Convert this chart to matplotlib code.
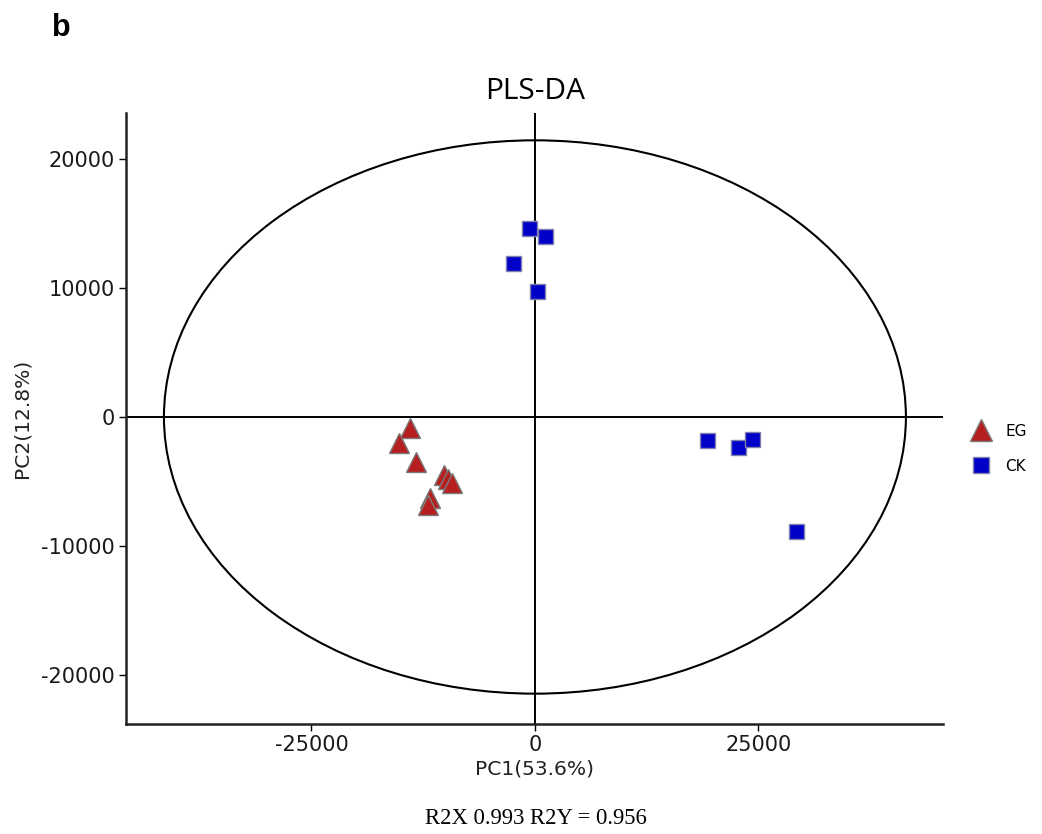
import numpy as np
import matplotlib
matplotlib.use("Agg")
import matplotlib.pyplot as plt
from matplotlib.patches import Ellipse

# scores
eg_x = [-13980, -15210, -13310, -10180, -9700, -9280, -11750, -11970]
eg_y = [-850, -2020, -3490, -4500, -4800, -5120, -6280, -6820]
ck_x = [-670, 1120, -2460, 220, 19240, 22710, 24270, 29200]
ck_y = [14650, 14030, 11940, 9770, -1780, -2330, -1710, -8840]

# confidence ellipse semi-axes
ell_a = 41500
ell_b = 21450

xticks = [-25000, 0, 25000]
yticks = [-20000, -10000, 0, 10000, 20000]

fig = plt.figure(figsize=(10.42, 8.34), dpi=100)
ax = fig.add_axes([0.1213, 0.1324, 0.7837, 0.7326])

ax.axhline(0, color="black", lw=1.4, zorder=1)
ax.axvline(0, color="black", lw=1.4, zorder=1)
ax.add_patch(Ellipse((0, 0), 2 * ell_a, 2 * ell_b, fill=False,
                     edgecolor="black", lw=1.5, zorder=1))

ax.plot(eg_x, eg_y, ls="none", marker="^", ms=15, mfc="#b51f1f",
        mec="#7a7a7a", mew=1.0, label="EG", zorder=3)
ax.plot(ck_x, ck_y, ls="none", marker="s", ms=10.8, mfc="#0000c8",
        mec="#7f7fb0", mew=1.0, label="CK", zorder=3)

ax.set_xlim(-45700, 45650)
ax.set_ylim(-23770, 23600)
ax.set_xticks(xticks)
ax.set_yticks(yticks)
ax.set_xticklabels([str(v) for v in xticks])
ax.set_yticklabels([str(v) for v in yticks])
ax.tick_params(labelsize=15, length=5, width=1, colors="black",
               labelcolor="#1a1a1a")

for s in ["top", "right"]:
    ax.spines[s].set_visible(False)
for s in ["left", "bottom"]:
    ax.spines[s].set_linewidth(1.8)
    ax.spines[s].set_color("#222222")

ax.set_xlabel("PC1(53.6%)", fontsize=14.6, color="#222222", labelpad=3)
ax.set_ylabel("PC2(12.8%)", fontsize=14.6, color="#222222", labelpad=7)
ax.set_title("PLS-DA", fontsize=21.5, pad=10, family="Open Sans")

leg = ax.legend(loc="center left", bbox_to_anchor=(1.02, 0.45), frameon=False,
                fontsize=11, handletextpad=0.6, labelspacing=1.3,
                borderaxespad=0, markerscale=1.05)

fig.text(0.05, 0.966, "b", fontsize=22, fontweight="bold",
         family="Liberation Sans", va="center")
fig.text(0.514, 0.019, "R2X 0.993 R2Y = 0.956", fontsize=16.3,
         family="Liberation Serif", ha="center", va="center")

fig.savefig("out.png", dpi=100)
